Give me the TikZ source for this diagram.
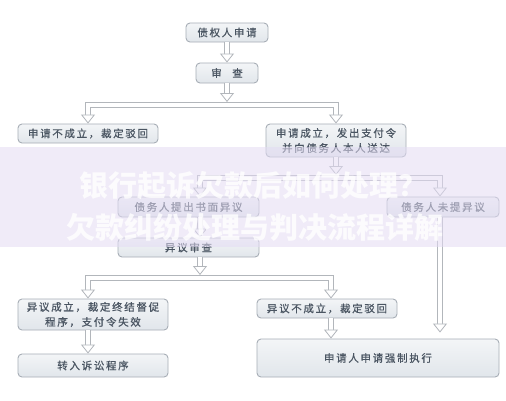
\documentclass[tikz,border=0pt]{standalone}
\usepackage{fontspec}
\newfontfamily\cjk[LetterSpace=16,FakeBold=0.7]{Noto Sans CJK SC}
\newfontfamily\cjkw{Noto Sans CJK SC}
\usetikzlibrary{arrows.meta}
\definecolor{boxline}{HTML}{A7AEB6}
\definecolor{boxtop}{HTML}{F3F5F7}
\definecolor{boxbot}{HTML}{E1E6EB}
\definecolor{txt}{HTML}{4A5562}
\definecolor{pipe}{HTML}{B2B6BB}
\definecolor{band}{HTML}{E4DCF4}
\tikzset{
  box/.style={draw=boxline, line width=0.9pt, rounded corners=4pt,
    top color=boxtop, bottom color=boxbot, text=txt, align=center,
    inner sep=0pt, font=\cjk\fontsize{10.5}{15}\selectfont},
  pout/.style={draw=pipe, line width=5.2pt},
  pin/.style={draw=white, line width=3.2pt},
  tip/.tip={Triangle[width=14pt,length=9pt,fill=white,color=pipe,line width=0.8pt]},
  soutone/.style={pout, shorten >=8.5pt},
  souttwo/.style={pout, shorten >=8.5pt, shorten <=8.5pt},
  sinone/.style={pin, -tip},
  sintwo/.style={pin, tip-tip},
  wmark/.style={text=white, opacity=0.8, font=\cjkw\bfseries\fontsize{29}{30}\selectfont},
}
\newcommand\allconns[2]{%
  \path[#1] (b1.south) -- (b2.north);
  \path[#1] (b2.south) -- (227,102);
  \path[#2] (b3.north) |- (227,105) -| (b4.north);
  \path[#1] (b4.south) -- (336,175);
  \path[#2] ([xshift=11.5pt]b5.north) |- (336,178) -| ([xshift=-3pt]b6.north);
  \path[#1] ([xshift=11.5pt]b5.south) -- ([xshift=11.5pt]b7.north);
  \path[#1] ([xshift=-3pt]b6.south) -- ([xshift=-3pt,yshift=6pt]b6.south |- b11.north);
  \path[#1] ([xshift=11.5pt]b7.south) -- (200,275);
  \path[#2] ([xshift=-5pt]b8.north) |- (200,278) -| ([xshift=4pt]b10.north);
  \path[#1] ([xshift=-5pt]b8.south) -- ([xshift=-5pt]b9.north);
  \path[#1] ([xshift=4pt]b10.south) -- ([xshift=4pt]b10.south |- b11.north);
}
\begin{document}
\begin{tikzpicture}[x=1pt,y=-1pt]
\useasboundingbox (0,0) rectangle (506,400);
\fill[white] (0,0) rectangle (506,400);
\node[box, minimum width=82pt, minimum height=19pt] (b1) at (227,32.5) {债权人申请};
\node[box, minimum width=62pt, minimum height=20pt] (b2) at (227,73) {审\quad 查};
\node[box, minimum width=140pt, minimum height=19pt] (b3) at (88,133.5) {申请不成立，裁定驳回};
\node[box, minimum width=140pt, minimum height=33pt] (b4) at (336,140.5) {申请成立，发出支付令\\并向债务人本人送达};
\node[box, minimum width=141pt, minimum height=20pt] (b5) at (188.5,207) {债务人提出书面异议};
\node[box, minimum width=112pt, minimum height=20pt] (b6) at (443,207) {债务人未提异议};
\node[box, minimum width=141pt, minimum height=19pt] (b7) at (188.5,247.5) {异议审查};
\node[box, minimum width=150pt, minimum height=31pt] (b8) at (93,314.5) {异议成立，裁定终结督促\\程序，支付令失效};
\node[box, minimum width=150pt, minimum height=23pt] (b9) at (93,365.5) {转入诉讼程序};
\node[box, minimum width=140pt, minimum height=19pt] (b10) at (327,308.5) {异议不成立，裁定驳回};
\node[box, minimum width=242pt, minimum height=38pt] (b11) at (378,358) {申请人申请强制执行};
\allconns{soutone}{souttwo}
\allconns{sinone}{sintwo}
% watermark band
\fill[band, opacity=0.55] (0,147) rectangle (506,247);
\node[wmark] (w1) at (253,186) {银行起诉欠款后如何处理？};
\node[wmark] (w2) at (255,227) {欠款纠纷处理与判决流程详解};
\end{tikzpicture}
\end{document}
